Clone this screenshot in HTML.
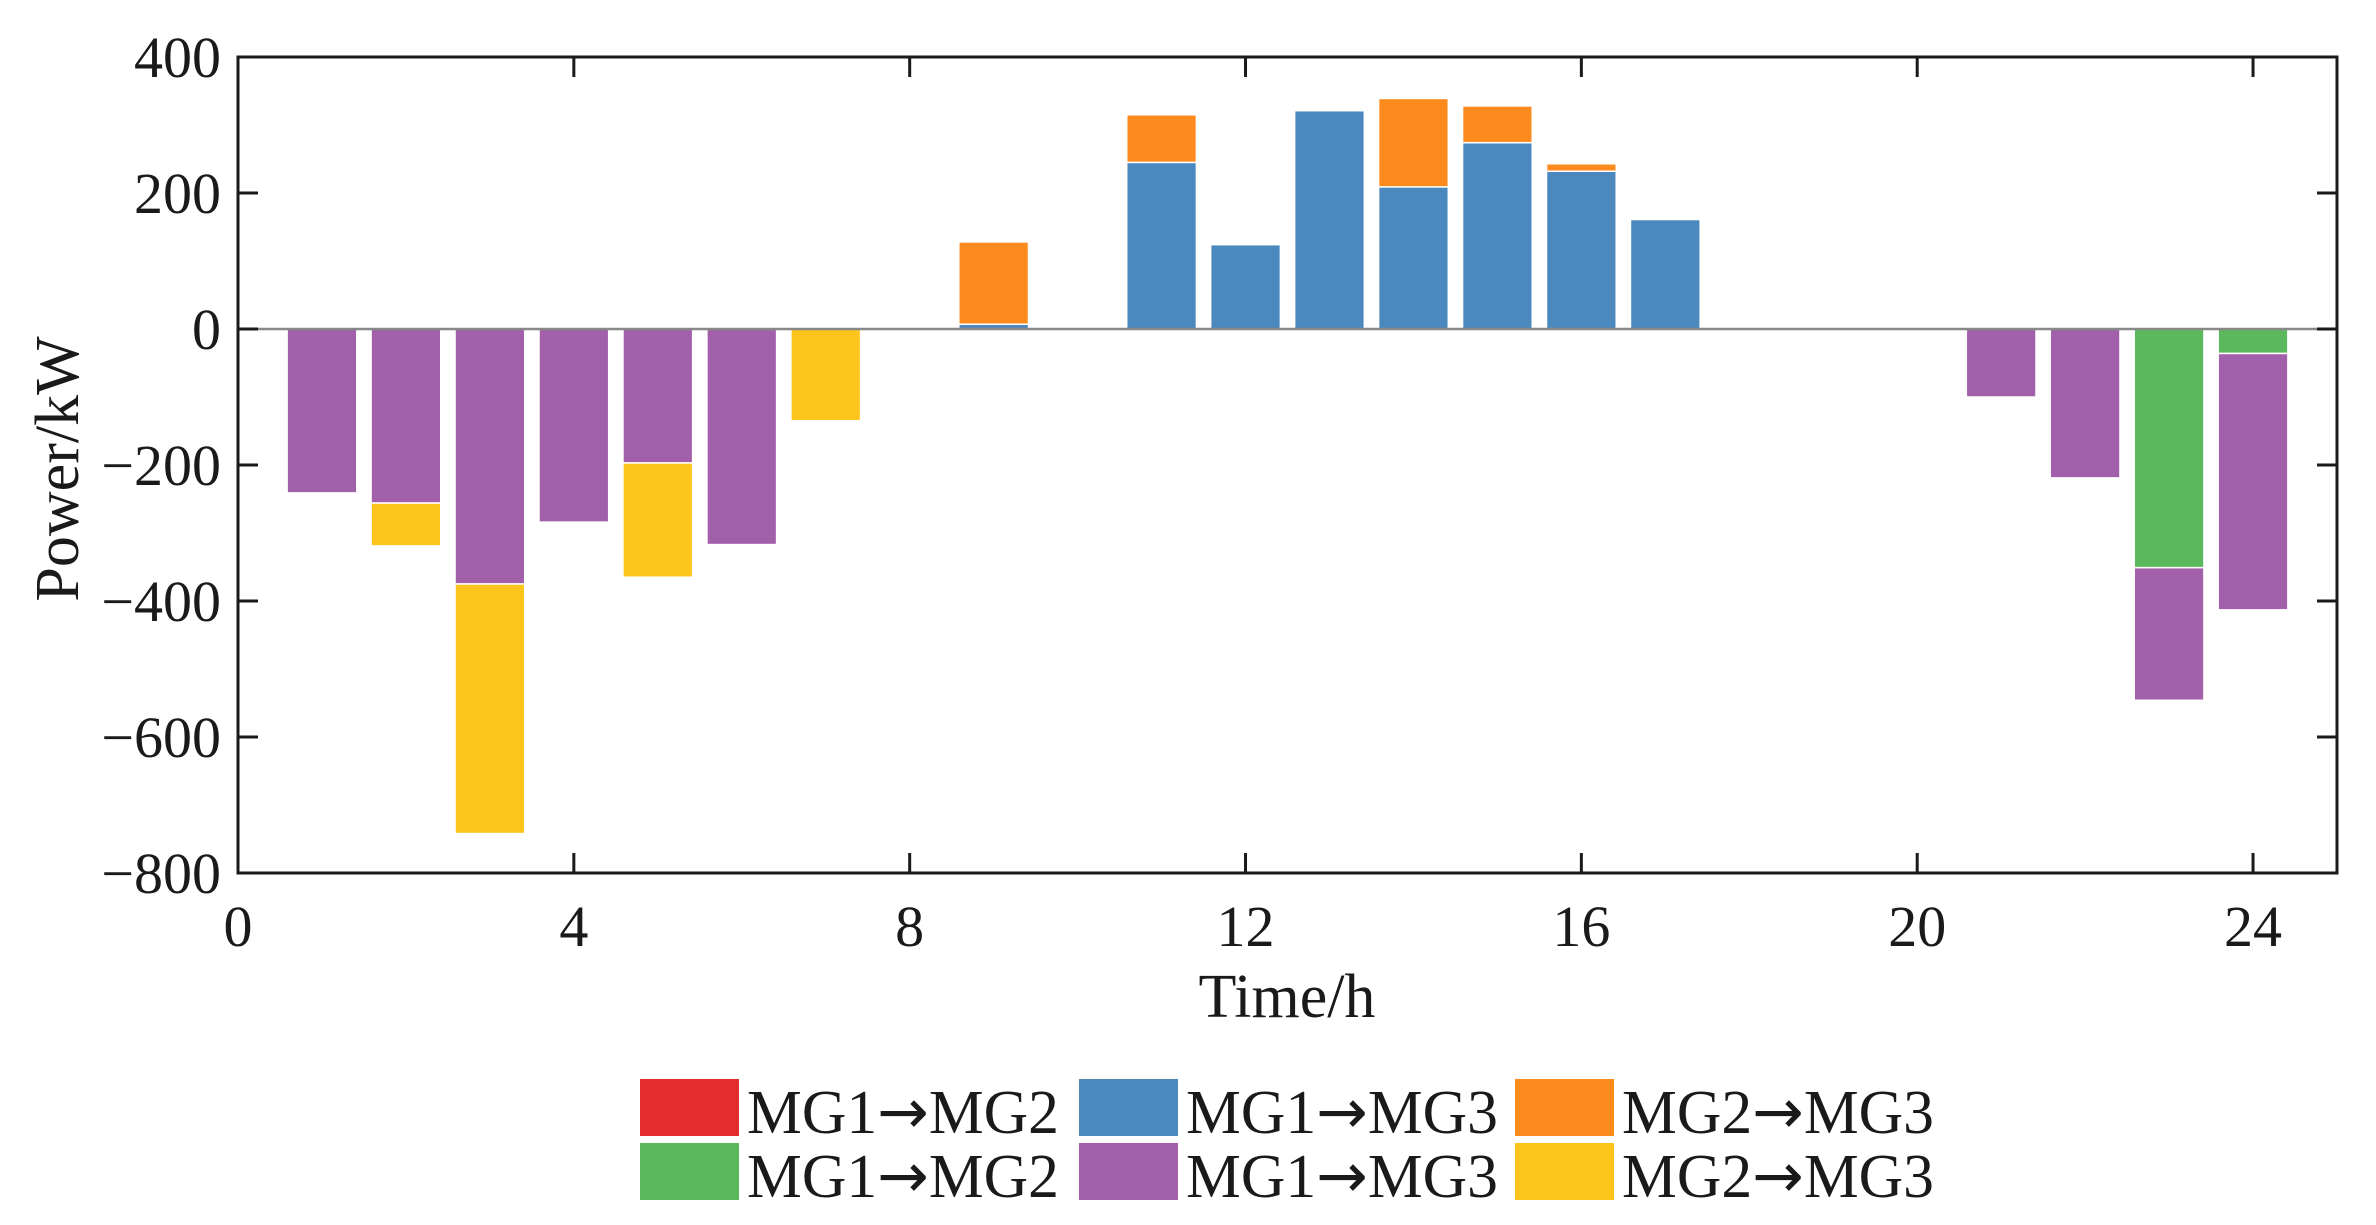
<!DOCTYPE html>
<html><head><meta charset="utf-8"><style>
html,body{margin:0;padding:0;background:#fff;}
svg{display:block;font-family:"Liberation Serif","DejaVu Serif",serif;}
</style></head><body>
<svg id="chart" width="2376" height="1225" viewBox="0 0 2376 1225" xmlns="http://www.w3.org/2000/svg">
<g id="bars"></g>
<g id="axes"></g>
<g id="legend"></g>
</svg>
<script>
const hours = [1,2,3,4,5,6,7,8,9,10,11,12,13,14,15,16,17,18,19,20,21,22,23,24];
const mg12Pos = [0,0,0,0,0,0,0,0,0,0,0,0,0,0,0,0,0,0,0,0,0,0,0,0];
const mg13Pos = [0,0,0,0,0,0,0,0,7,0,245,124,321,209,274,232,161,0,0,0,0,0,0,0];
const mg23Pos = [0,0,0,0,0,0,0,0,121,0,70,0,0,130,54,11,0,0,0,0,0,0,0,0];
const mg12Neg = [0,0,0,0,0,0,0,0,0,0,0,0,0,0,0,0,0,0,0,0,0,0,-351,-36];
const mg13Neg = [-241,-256,-375,-284,-197,-317,0,0,0,0,0,0,0,0,0,0,0,0,0,0,-100,-219,-195,-377];
const mg23Neg = [0,-63,-367,0,-168,0,-135,0,0,0,0,0,0,0,0,0,0,0,0,0,0,0,0,0];
const xTicks = [0,4,8,12,16,20,24];
const yTicks = [400,200,0,-200,-400,-600,-800];
const legendFrom = ["MG1","MG1","MG2","MG1","MG1","MG2"];
const legendTo = ["MG2","MG3","MG3","MG2","MG3","MG3"];

const NS = "http://www.w3.org/2000/svg";
const L = 238, R = 2337, T = 57, B = 873;
const xMin = 0, xMax = 25, yMin = -800, yMax = 400;
const xs = v => L + (v - xMin) / (xMax - xMin) * (R - L);
const ys = v => B - (v - yMin) / (yMax - yMin) * (B - T);
function mk(tag, attrs, parent) {
  const e = document.createElementNS(NS, tag);
  for (const k in attrs) e.setAttribute(k, attrs[k]);
  parent.appendChild(e);
  return e;
}
const colors = ["#e32d2f","#4a88be","#fd8a1d","#5cb85c","#a260ab","#fdc41b"];
const barsG = document.getElementById('bars');
const bw = 0.83;
const posSeries = [mg12Pos, mg13Pos, mg23Pos];
const negSeries = [mg12Neg, mg13Neg, mg23Neg];
const posNames = ["mg1-mg2-export","mg1-mg3-export","mg2-mg3-export"];
const negNames = ["mg1-mg2-import","mg1-mg3-import","mg2-mg3-import"];
hours.forEach((h, i) => {
  let acc = 0;
  posSeries.forEach((s, k) => {
    const v = s[i]; if (!v) return;
    const r = mk('rect', {x: xs(h - bw/2), y: ys(acc + v), width: xs(h + bw/2) - xs(h - bw/2), height: ys(acc) - ys(acc + v), fill: colors[k], stroke: '#fff', 'stroke-width': 1.5}, barsG);
    
    
    acc += v;
  });
  acc = 0;
  negSeries.forEach((s, k) => {
    const v = s[i]; if (!v) return;
    const r = mk('rect', {x: xs(h - bw/2), y: ys(acc), width: xs(h + bw/2) - xs(h - bw/2), height: ys(acc + v) - ys(acc), fill: colors[k + 3], stroke: '#fff', 'stroke-width': 1.5}, barsG);
    
    
    acc += v;
  });
});
const ax = document.getElementById('axes');
const zl = mk('line', {x1: L, x2: R, y1: ys(0), y2: ys(0), stroke: '#888', 'stroke-width': 2.5}, ax);


const frame = mk('rect', {x: L, y: T, width: R - L, height: B - T, fill: 'none', stroke: '#1a1a1a', 'stroke-width': 3}, ax);


xTicks.forEach(t => {
  const x = xs(t);
  mk('line', {x1: x, x2: x, y1: B, y2: B - 20, stroke: '#1a1a1a', 'stroke-width': 3}, ax);
  mk('line', {x1: x, x2: x, y1: T, y2: T + 20, stroke: '#1a1a1a', 'stroke-width': 3}, ax);
  const tx = mk('text', {x: x, y: 946, 'font-size': 58, 'text-anchor': 'middle', fill: '#1a1a1a'}, ax);
  tx.textContent = t;
  
  
});
yTicks.forEach(t => {
  const y = ys(t);
  mk('line', {x1: L, x2: L + 20, y1: y, y2: y, stroke: '#1a1a1a', 'stroke-width': 3}, ax);
  mk('line', {x1: R, x2: R - 20, y1: y, y2: y, stroke: '#1a1a1a', 'stroke-width': 3}, ax);
  const tx = mk('text', {x: 221, y: y + 20, 'font-size': 58, 'text-anchor': 'end', fill: '#1a1a1a'}, ax);
  tx.textContent = t < 0 ? '\u2212' + (-t) : String(t);
  
  
});
const xt = mk('text', {x: 1287, y: 1017, 'font-size': 62, 'text-anchor': 'middle', fill: '#1a1a1a'}, ax);
xt.textContent = 'Time/h';


const yt = mk('text', {x: 0, y: 0, 'font-size': 62, 'text-anchor': 'middle', fill: '#1a1a1a', transform: 'translate(78,469) rotate(-90)'}, ax);
yt.textContent = 'Power/kW';



const lg = document.getElementById('legend');
const colX = [640, 1079, 1515];
const rowY = [1079, 1143];
legendFrom.forEach((from, i) => {
  const c = i % 3, r = Math.floor(i / 3);
  const g = mk('g', {}, lg);
  
  
  mk('rect', {x: colX[c], y: rowY[r], width: 99, height: 57, fill: colors[i]}, g);
  const tx = mk('text', {x: colX[c] + 107, y: rowY[r] + 54, 'font-size': 62, fill: '#1a1a1a', textLength: 312, lengthAdjust: 'spacingAndGlyphs'}, g);
  const a = mk('tspan', {}, tx); a.textContent = from;
  const b = mk('tspan', {'font-family': '"DejaVu Sans", sans-serif', 'font-size': 62}, tx); b.textContent = '\u2192';
  const c2 = mk('tspan', {}, tx); c2.textContent = legendTo[i];
});
</script>
</body></html>
